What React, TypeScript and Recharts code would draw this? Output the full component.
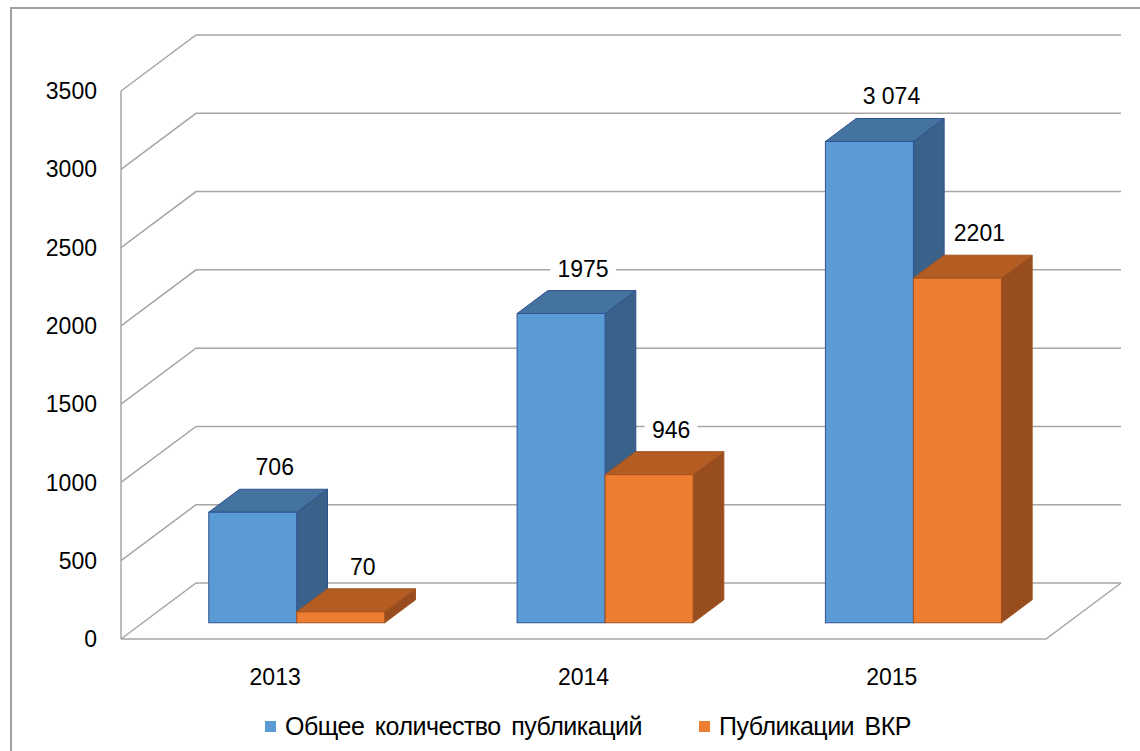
import React from 'react';
import { BarChart, Bar, XAxis, YAxis, CartesianGrid, LabelList } from 'recharts';

const years = ['2013', '2014', '2015'];
const totalPublications = [706, 1975, 3074];
const vkrPublications = [70, 946, 2201];
const totalLabels = ['706', '1975', '3 074'];
const vkrLabels = ['70', '946', '2201'];
const yTicks = [0, 500, 1000, 1500, 2000, 2500, 3000, 3500];

const seriesNames = {
  total: 'Общее количество публикаций',
  vkr: 'Публикации ВКР',
};

const chartData = years.map((year, i) => ({
  year,
  total: totalPublications[i],
  vkr: vkrPublications[i],
  totalLabel: totalLabels[i],
  vkrLabel: vkrLabels[i],
}));

const COLORS = {
  blueFront: '#5b9bd5',
  blueTop: '#44739f',
  blueSide: '#3a6189',
  blueStroke: '#2f528f',
  orangeFront: '#ed7d31',
  orangeTop: '#b45d22',
  orangeSide: '#974d1d',
  orangeStroke: '#a55220',
  grid: '#a6a6a6',
  frame: '#a0a0a0',
  text: '#000000',
};

const FONT = '"Liberation Sans", Arial, sans-serif';

// depth of the 3d box (back wall offset)
const DEPTH_X = 75;
const DEPTH_Y = 56;
// bars sit inside the floor between these depth fractions
const BAR_FRONT = 0.29;
const BAR_BACK = 0.7;

const makeBox = (front: string, top: string, side: string, stroke: string) => (props: any) => {
  const { x = 0, y = 0, width = 0, height = 0 } = props;
  const fx = x + DEPTH_X * BAR_FRONT;
  const fy = y - DEPTH_Y * BAR_FRONT;
  const dx = DEPTH_X * (BAR_BACK - BAR_FRONT);
  const dy = DEPTH_Y * (BAR_BACK - BAR_FRONT);
  const bottom = fy + height;
  return (
    <g>
      <polygon
        points={`${fx + width},${fy} ${fx + width + dx},${fy - dy} ${fx + width + dx},${bottom - dy} ${fx + width},${bottom}`}
        fill={side}
        stroke={stroke}
        strokeWidth={1}
      />
      <polygon
        points={`${fx},${fy} ${fx + dx},${fy - dy} ${fx + width + dx},${fy - dy} ${fx + width},${fy}`}
        fill={top}
        stroke={stroke}
        strokeWidth={1}
      />
      <rect x={fx} y={fy} width={width} height={height} fill={front} stroke={stroke} strokeWidth={1} />
    </g>
  );
};

const renderValueLabel = (props: any) => {
  const { x = 0, y = 0, width = 0, value } = props;
  const cx = x + width / 2 + DEPTH_X * BAR_FRONT + 22;
  const cy = y - DEPTH_Y * BAR_BACK - 22;
  const text = String(value);
  const w = text.length * 13 + 14;
  return (
    <g>
      <rect x={cx - w / 2} y={cy - 13} width={w} height={26} fill="#fff" />
      <text x={cx} y={cy} textAnchor="middle" dominantBaseline="central" fontSize={23} fontFamily={FONT} fill={COLORS.text}>
        {text}
      </text>
    </g>
  );
};

const renderGridLine = (props: any) => {
  const { x1 = 0, y1 = 0, x2 = 0, index } = props;
  return (
    <g key={`grid-${index}`}>
      <polyline
        points={`${x1},${y1} ${x1 + DEPTH_X},${y1 - DEPTH_Y} ${x2 + DEPTH_X},${y1 - DEPTH_Y}`}
        fill="none"
        stroke={COLORS.grid}
        strokeWidth={1.5}
      />
      {index === 0 && (
        <polyline
          points={`${x1},${y1} ${x2},${y1} ${x2 + DEPTH_X},${y1 - DEPTH_Y}`}
          fill="none"
          stroke={COLORS.grid}
          strokeWidth={1.5}
        />
      )}
    </g>
  );
};

const App = () => {
  return (
    <div style={{ position: 'absolute', left: 0, top: 0, width: 1140, height: 751, background: '#fff', overflow: 'hidden' }}>
      <div
        style={{
          position: 'absolute',
          left: 10,
          top: 7,
          width: 1200,
          height: 800,
          borderLeft: `2px solid ${COLORS.frame}`,
          borderTop: `2px solid ${COLORS.frame}`,
        }}
      />
      <BarChart
        width={1140}
        height={751}
        data={chartData}
        margin={{ top: 91, right: 94, bottom: 82, left: 61 }}
        barSize={88}
        barGap={0}
        style={{ position: 'absolute', left: 0, top: 0 }}
      >
        <CartesianGrid vertical={false} horizontal={renderGridLine} />
        <XAxis
          dataKey="year"
          axisLine={false}
          tickLine={false}
          tickSize={0}
          tickMargin={30}
          height={30}
          tick={{ fontSize: 23, fontFamily: FONT, fill: COLORS.text }}
        />
        <YAxis
          domain={[0, 3500]}
          ticks={yTicks}
          width={60}
          axisLine={{ stroke: COLORS.grid, strokeWidth: 1.5 }}
          tickLine={false}
          tickSize={0}
          tickMargin={24}
          tick={{ fontSize: 23, fontFamily: FONT, fill: COLORS.text }}
        />
        <Bar
          dataKey="total"
          name={seriesNames.total}
          isAnimationActive={false}
          shape={makeBox(COLORS.blueFront, COLORS.blueTop, COLORS.blueSide, COLORS.blueStroke)}
        >
          <LabelList dataKey="totalLabel" content={renderValueLabel} />
        </Bar>
        <Bar
          dataKey="vkr"
          name={seriesNames.vkr}
          isAnimationActive={false}
          shape={makeBox(COLORS.orangeFront, COLORS.orangeTop, COLORS.orangeSide, COLORS.orangeStroke)}
        >
          <LabelList dataKey="vkrLabel" content={renderValueLabel} />
        </Bar>
      </BarChart>
      <div
        style={{
          position: 'absolute',
          left: 0,
          top: 712,
          width: 1140,
          display: 'flex',
          justifyContent: 'center',
          gap: 57,
          paddingLeft: 36,
          boxSizing: 'border-box',
          fontFamily: FONT,
          fontSize: 25,
          letterSpacing: -0.5,
          wordSpacing: 4,
          color: COLORS.text,
        }}
      >
        {[
          { name: seriesNames.total, color: COLORS.blueFront },
          { name: seriesNames.vkr, color: COLORS.orangeFront },
        ].map((item) => (
          <div key={item.name} style={{ display: 'flex', alignItems: 'center' }}>
            <div style={{ width: 11, height: 11, background: item.color, marginRight: 9 }} />
            <span>{item.name}</span>
          </div>
        ))}
      </div>
    </div>
  );
};

export default App;
